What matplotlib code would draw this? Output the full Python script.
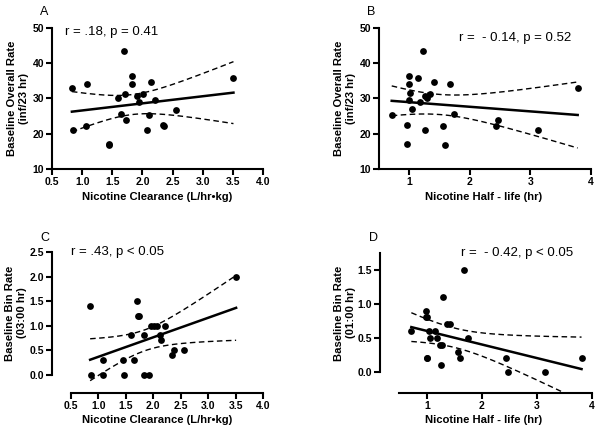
import numpy as np
import matplotlib
matplotlib.use("Agg")
import matplotlib.pyplot as plt

plt.rcParams["font.family"] = ["Liberation Sans", "DejaVu Sans"]

# panel A: clearance vs overall rate
a_x = [0.83, 0.85, 1.07, 1.08, 1.44, 1.45, 1.59, 1.64, 1.70, 1.71, 1.72, 1.83,
       1.83, 1.91, 1.95, 2.01, 2.07, 2.11, 2.14, 2.21, 2.34, 2.36, 2.56, 3.51]
a_y = [32.9, 21.1, 22.2, 34.1, 17.1, 16.9, 30.1, 25.5, 43.5, 31.4, 24.0, 36.3,
       34.1, 30.8, 29.1, 31.4, 21.0, 25.4, 34.7, 29.7, 22.5, 22.3, 26.8, 35.8]

# panel B: half-life vs overall rate
b_x = [0.71, 0.97, 0.97, 1.00, 1.00, 1.02, 1.00, 1.05, 1.14, 1.17, 1.22, 1.26,
       1.26, 1.29, 1.35, 1.41, 1.55, 1.59, 1.67, 1.74, 2.43, 2.47, 3.13, 3.78]
b_y = [25.4, 22.4, 17.1, 36.3, 34.1, 31.6, 29.7, 26.9, 35.8, 29.1, 43.5, 30.8,
       21.0, 30.1, 31.4, 34.7, 22.3, 16.8, 34.1, 25.6, 22.3, 24.0, 21.2, 32.9]

# panel C: clearance vs 03:00 bin rate
c_x = [0.85, 0.86, 1.09, 1.09, 1.45, 1.46, 1.60, 1.65, 1.70, 1.73, 1.74, 1.83,
       1.83, 1.92, 1.96, 2.01, 2.07, 2.12, 2.15, 2.22, 2.35, 2.37, 2.56, 3.51]
c_y = [1.40, 0.00, 0.30, 0.00, 0.30, 0.00, 0.80, 0.30, 1.50, 1.20, 1.20, 0.80,
       0.00, 0.00, 1.00, 1.00, 1.00, 0.80, 0.70, 1.00, 0.40, 0.50, 0.50, 2.00]

# panel D: half-life vs 01:00 bin rate (one point hidden under another near x=1)
d_x = [0.72, 0.98, 0.98, 1.01, 1.00, 1.00, 1.04, 1.05, 1.15, 1.18, 1.24, 1.27,
       1.26, 1.30, 1.36, 1.43, 1.56, 1.61, 1.68, 1.75, 2.44, 2.48, 3.14, 3.81]
d_y = [0.60, 0.90, 0.80, 0.80, 0.20, 0.20, 0.60, 0.50, 0.60, 0.50, 0.40, 0.40,
       0.10, 1.10, 0.70, 0.70, 0.30, 0.20, 1.50, 0.50, 0.20, 0.00, 0.00, 0.20]

W, H = 600, 433


def add_panel(fig, left, right, top, bottom):
    return fig.add_axes([left / W, 1 - bottom / H, (right - left) / W, (bottom - top) / H])


def fit_plot(ax, x, y):
    x = np.asarray(x)
    y = np.asarray(y)
    n = len(x)
    slope, icpt = np.polyfit(x, y, 1)
    xs = np.linspace(x.min(), x.max(), 200)
    yhat = slope * xs + icpt
    resid = y - (slope * x + icpt)
    s = np.sqrt(np.sum(resid ** 2) / (n - 2))
    sxx = np.sum((x - x.mean()) ** 2)
    t = 2.074  # t(0.975, df=22)
    band = t * s * np.sqrt(1 / n + (xs - x.mean()) ** 2 / sxx)
    ax.scatter(x, y, s=24, color="black", zorder=3, linewidths=0)
    ax.plot(xs, yhat, color="black", lw=1.8)
    ax.plot(xs, yhat + band, color="black", lw=1.0, ls=(0, (4, 2.5)))
    ax.plot(xs, yhat - band, color="black", lw=1.0, ls=(0, (4, 2.5)))


def style(ax):
    for side in ("top", "right"):
        ax.spines[side].set_visible(False)
    for side in ("left", "bottom"):
        ax.spines[side].set_linewidth(1.5)
    ax.tick_params(width=1.5, length=4, labelsize=7.5, pad=1.5)
    for lab in ax.get_xticklabels() + ax.get_yticklabels():
        lab.set_fontweight("bold")


fig = plt.figure(figsize=(6, 4.33), dpi=100)

# A
ax = add_panel(fig, 52, 263, 28, 169)
fit_plot(ax, a_x, a_y)
ax.set_xlim(0.5, 4.0)
ax.set_ylim(10, 50)
ax.set_xticks([0.5, 1.0, 1.5, 2.0, 2.5, 3.0, 3.5, 4.0])
ax.set_xticklabels(["0.5", "1.0", "1.5", "2.0", "2.5", "3.0", "3.5", "4.0"])
ax.set_yticks([10, 20, 30, 40, 50])
style(ax)

# B
ax = add_panel(fig, 379, 591, 28, 169)
fit_plot(ax, b_x, b_y)
ax.set_xlim(0.5, 4.0)
ax.set_ylim(10, 50)
ax.set_xticks([1, 2, 3, 4])
ax.set_yticks([10, 20, 30, 40, 50])
style(ax)

# C
ax = add_panel(fig, 52, 263, 252, 393)
fit_plot(ax, c_x, c_y)
ax.set_xlim(0.155, 4.0)
ax.set_ylim(-0.376, 2.5)
ax.spines["left"].set_bounds(0, 2.5)
ax.spines["bottom"].set_bounds(0.5, 4.0)
ax.set_xticks([0.5, 1.0, 1.5, 2.0, 2.5, 3.0, 3.5, 4.0])
ax.set_xticklabels(["0.5", "1.0", "1.5", "2.0", "2.5", "3.0", "3.5", "4.0"])
ax.set_yticks([0, 0.5, 1.0, 1.5, 2.0, 2.5])
ax.set_yticklabels(["0.0", "0.5", "1.0", "1.5", "2.0", "2.5"])
style(ax)

# D
ax = add_panel(fig, 380, 592, 253, 393)
fit_plot(ax, d_x, d_y)
ax.set_xlim(0.151, 4.0)
ax.set_ylim(-0.307, 1.745)
ax.spines["left"].set_bounds(0, 1.745)
ax.spines["bottom"].set_bounds(0.5, 4.0)
ax.set_xticks([1, 2, 3, 4])
ax.set_yticks([0, 0.5, 1.0, 1.5])
ax.set_yticklabels(["0.0", "0.5", "1.0", "1.5"])
style(ax)


def ftext(x, y, s, **kw):
    fig.text(x / W, 1 - y / H, s, **kw)


# panel letters
for letter, x, y in [("A", 44, 12), ("B", 371, 12), ("C", 45, 238), ("D", 374, 238)]:
    ftext(x, y, letter, fontsize=9, ha="center", va="center")

# statistics
stat = dict(fontsize=9.5, ha="left", va="center")
ftext(65, 32, "r = .18, p = 0.41", **stat)
ftext(459, 38, "r =  - 0.14, p = 0.52", **stat)
ftext(71, 252, "r = .43, p < 0.05", **stat)
ftext(461, 253, "r =  - 0.42, p < 0.05", **stat)

# axis labels
lab = dict(fontsize=8.1, fontweight="bold", ha="center", va="center")
ftext(157, 197, "Nicotine Clearance (L/hr\u2022kg)", **lab)
ftext(484, 197, "Nicotine Half - life (hr)", **lab)
ftext(157, 420, "Nicotine Clearance (L/hr\u2022kg)", **lab)
ftext(484, 420, "Nicotine Half - life (hr)", **lab)

ylab = dict(lab, rotation=90, linespacing=1.15)
ftext(18, 98, "Baseline Overall Rate\n(inf/23 hr)", **ylab)
ftext(345, 98, "Baseline Overall Rate\n(inf/23 hr)", **ylab)
ftext(16, 313, "Baseline Bin Rate\n(03:00 hr)", **ylab)
ftext(345, 313, "Baseline Bin Rate\n(01:00 hr)", **ylab)

fig.savefig("out.png", dpi=100)
